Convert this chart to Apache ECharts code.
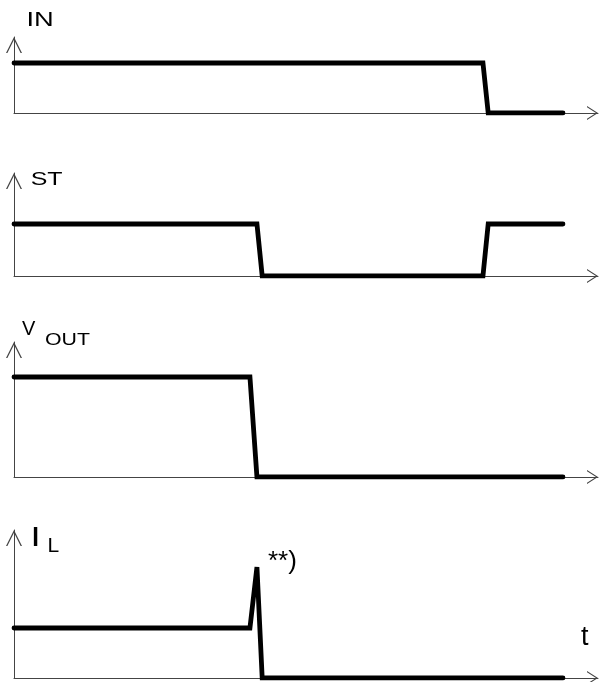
<!DOCTYPE html>
<html>
<head>
<meta charset="utf-8">
<script src="https://cdn.jsdelivr.net/npm/echarts@6/dist/echarts.min.js"></script>
<style>
    html, body { margin: 0; padding: 0; background: #fff; }
    #chart { width: 599px; height: 682px; }
</style>
</head>
<body>
<div id="chart"></div>
<script>
// time runs 0..100 on every trace, level 0 = baseline, 1 = high
const timeIN = [0, 80.3, 81.2, 94]
const levelIN = [1, 1, 0, 0]

const timeST = [0, 41.6, 42.5, 80.3, 81.2, 94]
const levelST = [1, 1, 0, 0, 1, 1]

const timeVOUT = [0, 40.4, 41.6, 94]
const levelVOUT = [1, 1, 0, 0]

const timeIL = [0, 40.4, 41.6, 42.5, 94]
const levelIL = [1, 1, 2.22, 0, 0]

const traces = [
    { time: timeIN, level: levelIN, yMax: 1.52 },
    { time: timeST, level: levelST, yMax: 1.98 },
    { time: timeVOUT, level: levelVOUT, yMax: 1.35 },
    { time: timeIL, level: levelIL, yMax: 2.96 },
]

const grids = [
    { left: 14, width: 584, top: 37, height: 76 },
    { left: 14, width: 584, top: 173, height: 103 },
    { left: 14, width: 584, top: 342, height: 135 },
    { left: 14, width: 584, top: 530, height: 148 },
]

const axisColor = '#444'
// open chevrons, pointing up before echarts rotates them
const upArrow = 'path://M0,16 L8,0 L16,16 L14.6,16 L8,2.8 L1.4,16 Z'
const sideArrow = 'path://M0,11 L7,0 L14,11 L12.7,11 L7,2 L1.3,11 Z'

const chart = echarts.init(document.getElementById('chart'))

// the drawing's lettering is wider than Arial, so most labels get stretched
const label = (text, x, y, size, stretch) => ({
    type: 'text',
    x: x,
    y: y,
    scaleX: stretch || 1,
    style: {
        text: text,
        fill: '#000',
        fontSize: size,
        fontFamily: 'Liberation Sans',
        verticalAlign: 'middle',
        align: 'left',
    },
})

chart.setOption({
    animation: false,
    grid: grids,
    xAxis: traces.map((t, i) => ({
        type: 'value',
        gridIndex: i,
        min: 0,
        max: 100,
        axisLine: {
            lineStyle: { color: axisColor, width: 1 },
            symbol: ['none', sideArrow],
            symbolSize: [14, 11],
            symbolOffset: [0, -5.5],
        },
        axisTick: { show: false },
        axisLabel: { show: false },
        splitLine: { show: false },
    })),
    yAxis: traces.map((t, i) => ({
        type: 'value',
        gridIndex: i,
        min: 0,
        max: t.yMax,
        axisLine: {
            show: true,
            lineStyle: { color: axisColor, width: 1 },
            symbol: ['none', upArrow],
            symbolSize: [16, 16],
            symbolOffset: [0, -8],
        },
        axisTick: { show: false },
        axisLabel: { show: false },
        splitLine: { show: false },
    })),
    series: traces.map((t, i) => ({
        type: 'line',
        xAxisIndex: i,
        yAxisIndex: i,
        showSymbol: false,
        data: t.time.map((x, k) => [x, t.level[k]]),
        lineStyle: { color: '#000', width: 4.8, cap: 'round', join: 'miter' },
        z: 5,
    })),
    graphic: [
        label('IN', 26.5, 20.5, 21, 1.3),
        label('ST', 30.7, 179.5, 18.5, 1.35),
        label('V', 22, 329, 20),
        label('OUT', 45, 341, 16, 1.33),
        label('I', 30.6, 538, 28, 1.3),
        label('L', 47.5, 546.5, 21),
        label('**)', 268, 562, 26),
        label('t', 581, 637.5, 27),
    ],
})
</script>
</body>
</html>
